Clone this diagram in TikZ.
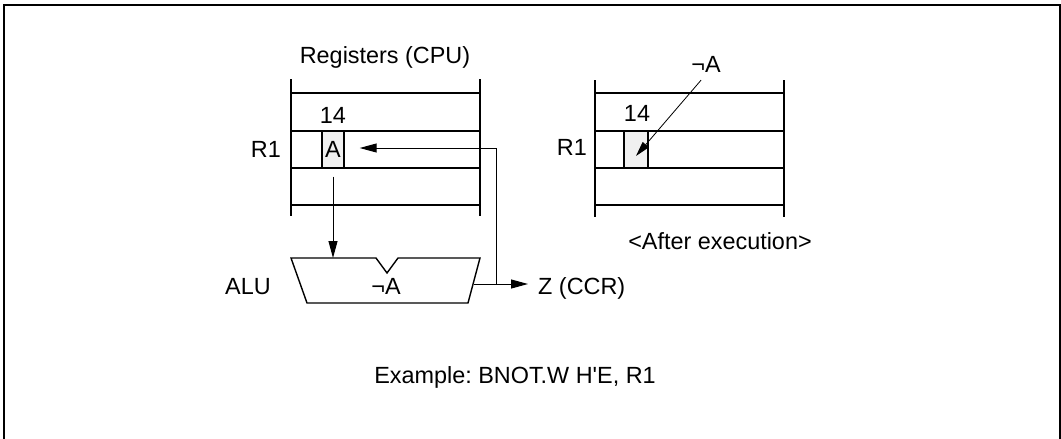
\documentclass[tikz,border=0pt]{standalone}
\usepackage{fontspec}
\setmainfont{Liberation Sans}
\newfontfamily\lsans{Liberation Sans}
\usetikzlibrary{arrows.meta,calc}
\frenchspacing
\begin{document}
\begin{tikzpicture}[x=1pt,y=-1pt,
  lbl/.style={font=\lsans\fontsize{23.4}{28}\selectfont, inner sep=0pt, anchor=base},
  reg/.style={line width=1.4pt},
  cell/.style={draw, line width=1.4pt, fill=gray!12, inner sep=0pt, minimum height=37pt, font=\lsans\fontsize{23.4}{28}\selectfont},
  arr/.style={line width=1pt, -{Triangle[length=17pt,width=9pt]}},
]
\useasboundingbox (0,0) rectangle (1061,439);
% frame
\draw[line width=2pt] (4,445) -- (4,5) -- (1060,5) -- (1060,445);

% ---- left register block ----
\draw[reg] (291,79) -- (291,216);
\draw[reg] (480,79) -- (480,216);
\foreach \yy in {93,131,168,205} \draw[reg] (291,\yy) -- (480,\yy);
\node[cell, minimum width=22pt] (a) at (333,149.5) {A};
\node[lbl] (regs) at (385,63) {Registers (CPU)};
\node[lbl] (n14a) at (333,123) {14};
\node[lbl, anchor=base east] (r1a) at (281,157) {R1};

% ---- ALU ----
\draw[reg] (291,258) -- (376,258) -- (387,273) -- (398,258) -- (480,258) -- (468,303) -- (307,303) -- cycle;
\coordinate (alutop) at (333,258);
\coordinate (aluout) at (474,284);
\coordinate (jn) at (496,284);
\node[lbl] (alu) at (248,294) {ALU};
\node[lbl] (nota) at (386,294) {¬A};
\node[lbl, anchor=base west] (z) at (538,294) {Z (CCR)};

% connectors
\draw[arr] ($(a.south)+(0,8)$) -- (a.south |- alutop);
\draw[arr, shorten >=10pt] (aluout) -- (aluout -| z.west);
\draw[arr] (jn) |- ($(a.east)+(15,-1.5)$);

% ---- right register block ----
\draw[reg] (595,80) -- (595,217);
\draw[reg] (784,80) -- (784,217);
\foreach \yy in {93,131,168,205} \draw[reg] (595,\yy) -- (784,\yy);
\node[cell, minimum width=24pt] (b) at (636,149.5) {};
\node[lbl] (n14b) at (637,121) {14};
\node[lbl, anchor=base east] (r1b) at (587,155) {R1};
\node[lbl] (nab) at (706,72) {¬A};
\draw[line width=0.8pt, -{Triangle[length=15pt,width=8pt]}] ($(nab.south)+(-5,8)$) -- ($(b.center)+(0,6.5)$);
\node[lbl] (after) at (720,249) {<After execution>};

\node[lbl] (example) at (515,383) {Example: BNOT.W H'E, R1};
\end{tikzpicture}
\end{document}
